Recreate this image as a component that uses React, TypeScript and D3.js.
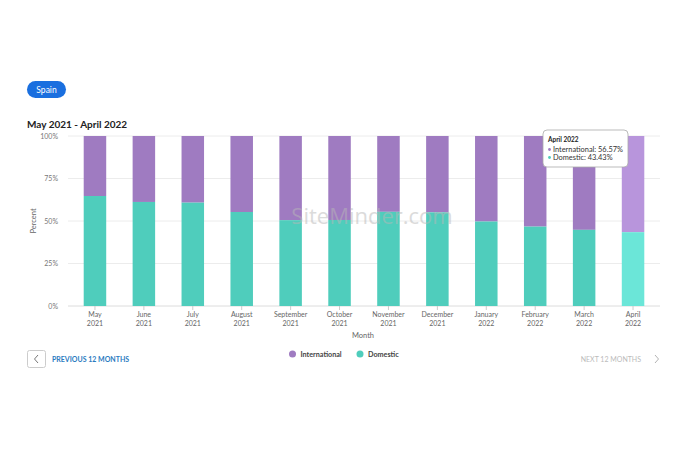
import React, { useEffect, useRef } from "react";
import * as d3 from "d3";

const months = ["May", "June", "July", "August", "September", "October", "November", "December", "January", "February", "March", "April"];
const years = ["2021", "2021", "2021", "2021", "2021", "2021", "2021", "2021", "2022", "2022", "2022", "2022"];
const domestic = [64.7, 61.2, 60.8, 55.3, 50.5, 50.6, 55.4, 55.1, 49.7, 46.7, 44.8, 43.43];
const international = domestic.map((d) => +(100 - d).toFixed(2));
const yTicks = [0, 25, 50, 75, 100];
const seriesNames = ["International", "Domestic"];

const W = 680;
const H = 453;
const FONT = "Lato, 'Open Sans', sans-serif";
const PURPLE = "#9f7bc1";
const TEAL = "#4fcdbc";
const PURPLE_HI = "#b895dc";
const TEAL_HI = "#6be6d8";

export default function App() {
  const ref = useRef<SVGSVGElement>(null);

  useEffect(() => {
    const svg = d3.select(ref.current);
    svg.selectAll("*").remove();

    const x = d3.scaleBand<number>().domain(d3.range(months.length)).range([70.5, 657.5]).paddingInner(0.54).paddingOuter(0.27);
    const y = d3.scaleLinear().domain([0, 100]).range([306, 136]);

    svg.append("rect").attr("width", W).attr("height", H).attr("fill", "#fff");

    // Spain pill
    svg.append("rect").attr("x", 27).attr("y", 81).attr("width", 39).attr("height", 17).attr("rx", 8.5).attr("fill", "#1a6fdf");
    svg.append("text").attr("x", 46.5).attr("y", 92.5).attr("text-anchor", "middle").attr("font-family", FONT).attr("font-size", 8.5).attr("fill", "#fff").text("Spain");

    // Title
    svg.append("text").attr("x", 27).attr("y", 128).attr("font-family", FONT).attr("font-size", 10).attr("font-weight", 700).attr("fill", "#222").text("May 2021 - April 2022");

    // Grid
    const g = svg.append("g");
    yTicks.forEach((t) => {
      g.append("line").attr("x1", 68).attr("x2", 660).attr("y1", y(t)).attr("y2", y(t)).attr("stroke", t === 0 ? "#dcdcdc" : "#ececec").attr("stroke-width", 1);
      g.append("text").attr("x", 58).attr("y", y(t) + 2.5).attr("text-anchor", "end").attr("font-family", FONT).attr("font-size", 7).attr("fill", "#777").text(`${t}%`);
    });

    svg.append("text").attr("transform", `translate(36,${y(50)}) rotate(-90)`).attr("text-anchor", "middle").attr("font-family", FONT).attr("font-size", 7.5).attr("fill", "#666").text("Percent");

    // Bars
    months.forEach((m, i) => {
      const hi = i === months.length - 1;
      const bx = x(i)!;
      const bw = x.bandwidth();
      g.append("rect").attr("x", bx).attr("width", bw).attr("y", y(100)).attr("height", y(domestic[i]) - y(100)).attr("fill", hi ? PURPLE_HI : PURPLE);
      g.append("rect").attr("x", bx).attr("width", bw).attr("y", y(domestic[i])).attr("height", y(0) - y(domestic[i])).attr("fill", hi ? TEAL_HI : TEAL);
      const cx = bx + bw / 2;
      g.append("line").attr("x1", cx).attr("x2", cx).attr("y1", y(0)).attr("y2", y(0) + 4).attr("stroke", "#ccc");
      g.append("text").attr("x", cx).attr("y", 317).attr("text-anchor", "middle").attr("font-family", FONT).attr("font-size", 7).attr("fill", "#666").text(m);
      g.append("text").attr("x", cx).attr("y", 326).attr("text-anchor", "middle").attr("font-family", FONT).attr("font-size", 7).attr("fill", "#666").text(years[i]);
    });

    svg.append("text").attr("x", 363).attr("y", 338).attr("text-anchor", "middle").attr("font-family", FONT).attr("font-size", 7.5).attr("fill", "#666").text("Month");

    // Watermark
    svg.append("text").attr("x", 372).attr("y", 224).attr("text-anchor", "middle").attr("font-family", "'Open Sans', sans-serif").attr("font-size", 22).attr("fill", "#b8b8b8").attr("opacity", 0.5).text("SiteMinder.com");

    // Tooltip
    const last = months.length - 1;
    const tt = svg.append("g");
    tt.append("rect").attr("x", 543).attr("y", 130).attr("width", 85).attr("height", 37).attr("rx", 4).attr("fill", "#fff").attr("stroke", "#aaa").attr("stroke-width", 0.8);
    tt.append("text").attr("x", 548).attr("y", 141.5).attr("font-family", FONT).attr("font-size", 6.5).attr("font-weight", 700).attr("fill", "#222").text(`${months[last]} ${years[last]}`);
    tt.append("circle").attr("cx", 549.5).attr("cy", 149.5).attr("r", 1.4).attr("fill", PURPLE);
    tt.append("text").attr("x", 553).attr("y", 152).attr("font-family", FONT).attr("font-size", 7.4).attr("fill", "#333").text(`${seriesNames[0]}: ${international[last].toFixed(2)}%`);
    tt.append("circle").attr("cx", 549.5).attr("cy", 157.5).attr("r", 1.4).attr("fill", TEAL);
    tt.append("text").attr("x", 553).attr("y", 160).attr("font-family", FONT).attr("font-size", 7.4).attr("fill", "#333").text(`${seriesNames[1]}: ${domestic[last].toFixed(2)}%`);

    // Legend
    const legend = [
      { name: seriesNames[0], color: PURPLE, x: 292.5 },
      { name: seriesNames[1], color: TEAL, x: 360 },
    ];
    legend.forEach((l) => {
      svg.append("circle").attr("cx", l.x).attr("cy", 354).attr("r", 3.5).attr("fill", l.color);
      svg.append("text").attr("x", l.x + 8).attr("y", 356.5).attr("font-family", FONT).attr("font-size", 7.2).attr("font-weight", 700).attr("fill", "#444").text(l.name);
    });

    // Prev button
    svg.append("rect").attr("x", 27.5).attr("y", 350.5).attr("width", 18).attr("height", 17).attr("rx", 2).attr("fill", "#fff").attr("stroke", "#ccc");
    svg.append("path").attr("d", "M38,355 L34.5,359 L38,363").attr("fill", "none").attr("stroke", "#666").attr("stroke-width", 0.9);
    svg.append("text").attr("x", 52).attr("y", 361.5).attr("font-family", FONT).attr("font-size", 7).attr("font-weight", 700).attr("fill", "#2b7bbf").text("PREVIOUS 12 MONTHS");

    // Next
    svg.append("text").attr("x", 641).attr("y", 361.5).attr("text-anchor", "end").attr("font-family", FONT).attr("font-size", 7).attr("fill", "#bbb").text("NEXT 12 MONTHS");
    svg.append("path").attr("d", "M655,355 L658.5,359 L655,363").attr("fill", "none").attr("stroke", "#aaa").attr("stroke-width", 0.9);
  }, []);

  return (
    <div style={{ position: "fixed", left: 0, top: 0 }}>
      <svg ref={ref} width={W} height={H} style={{ display: "block" }} />
    </div>
  );
}
